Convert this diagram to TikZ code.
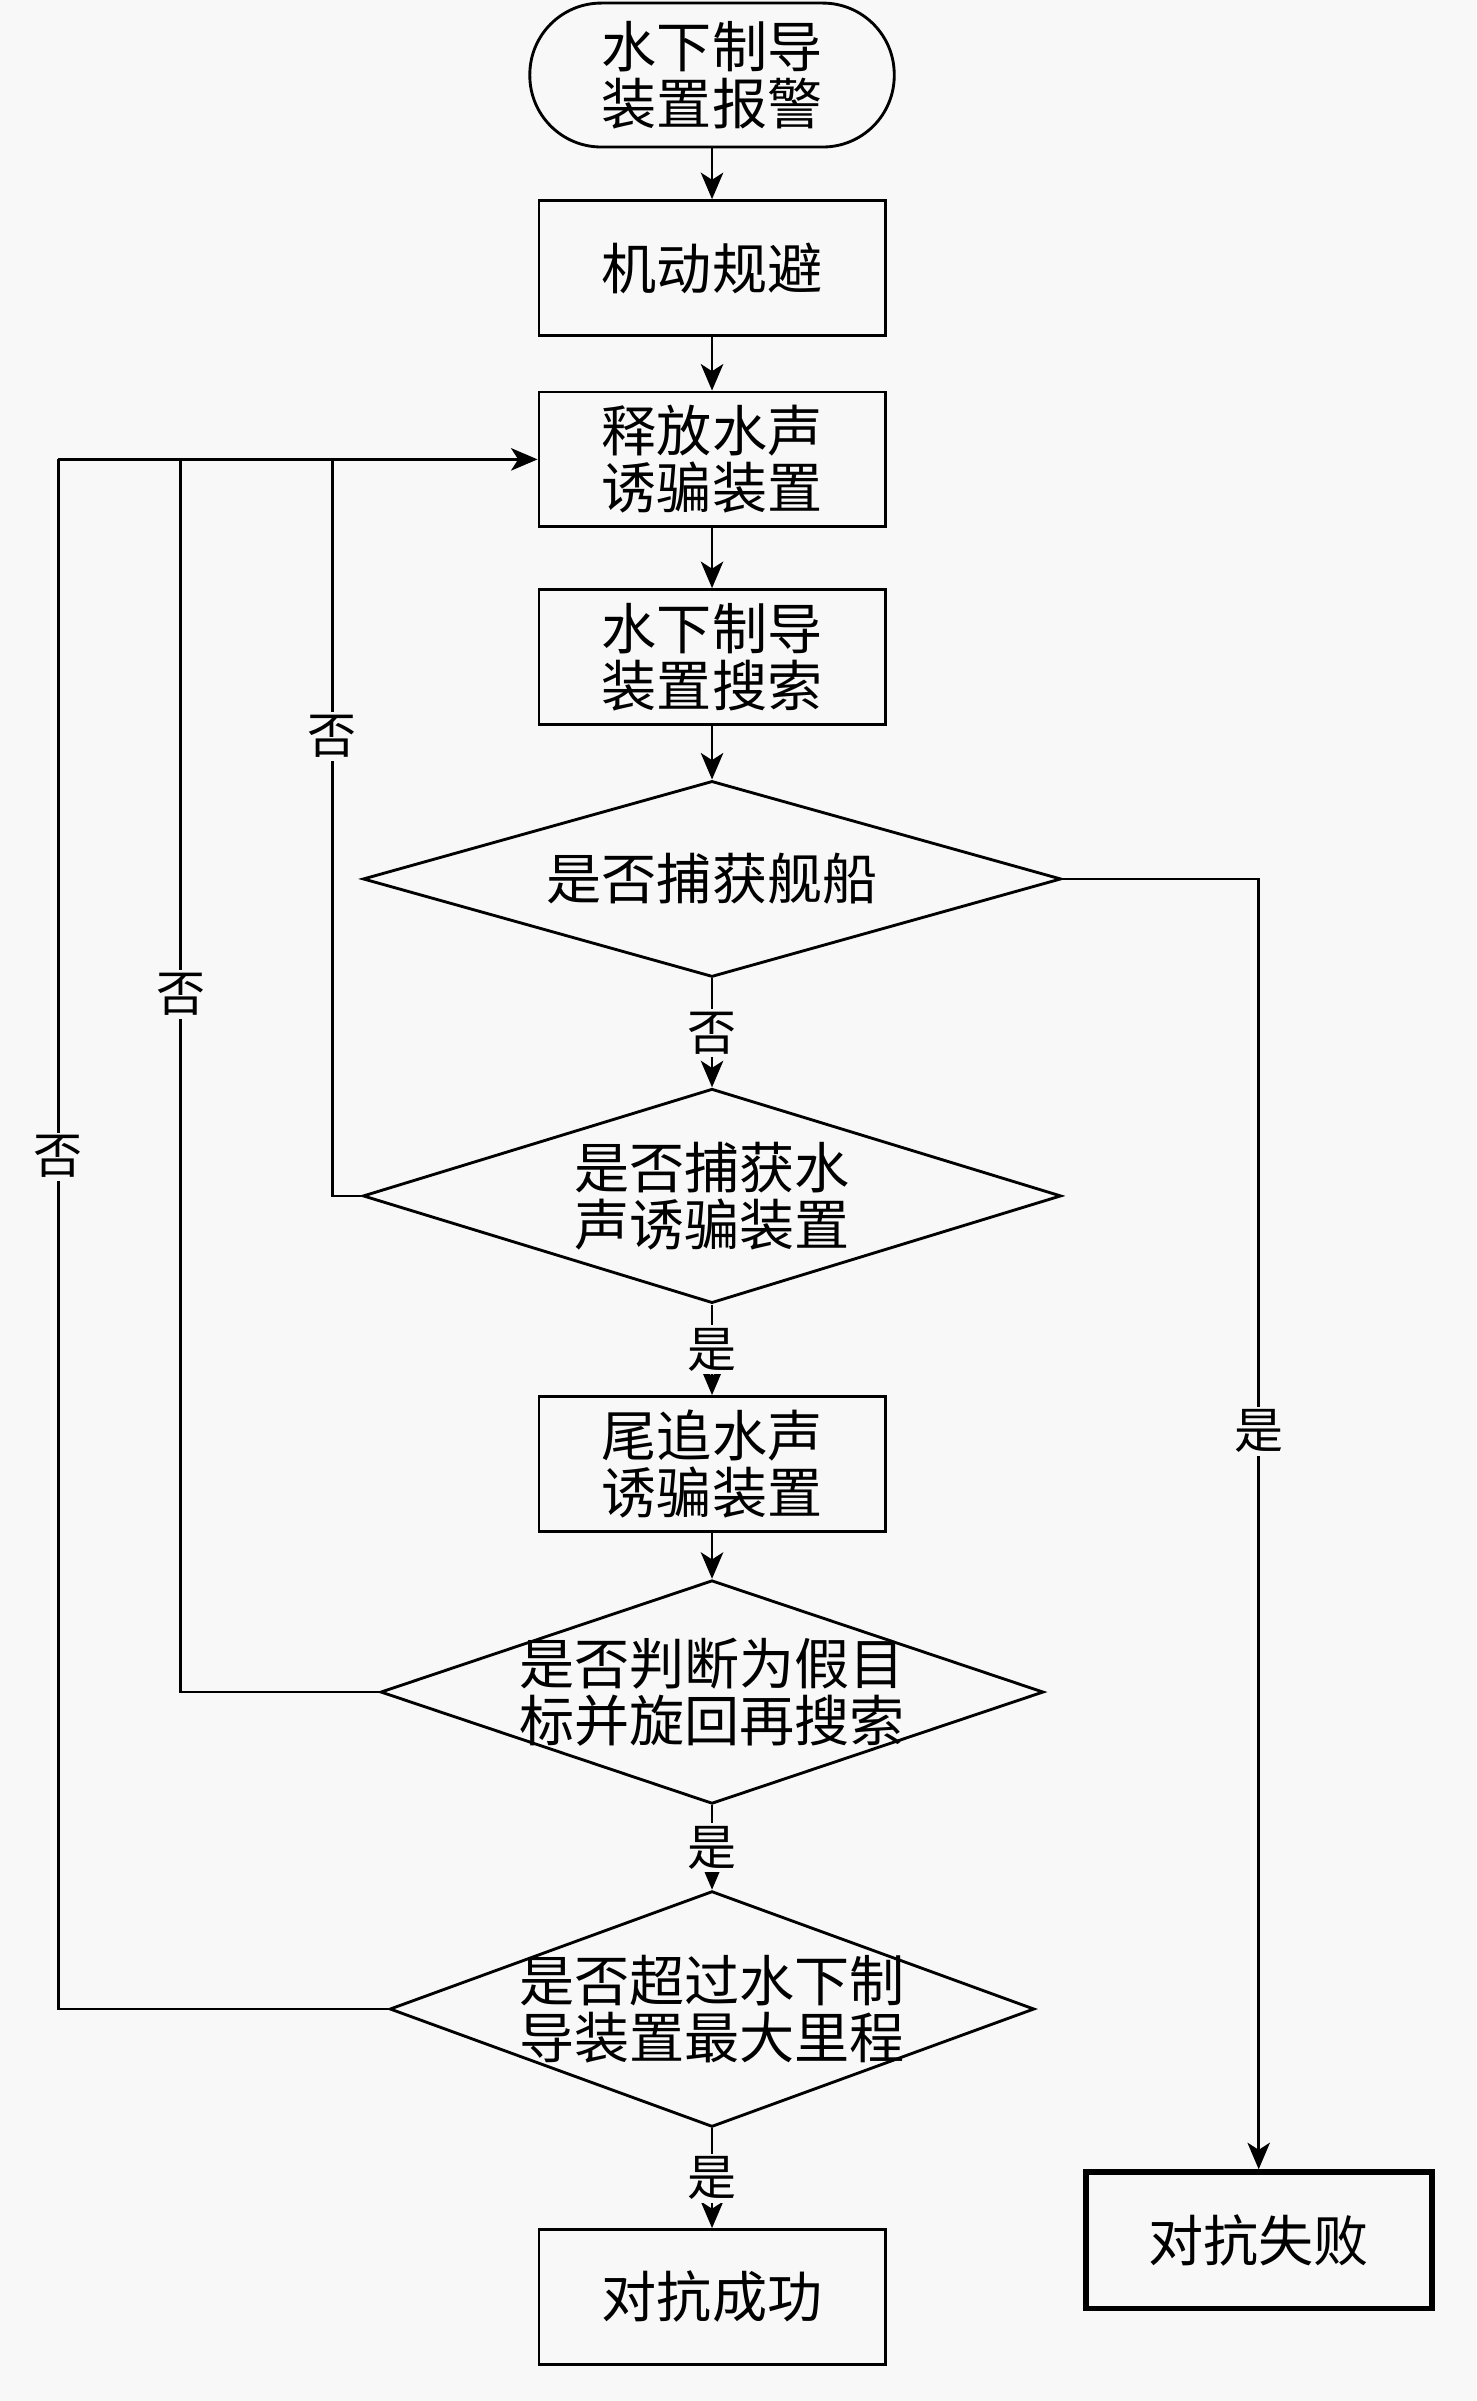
\documentclass[tikz,border=0pt]{standalone}
\usepackage{fontspec}
\newfontfamily\cjk{Noto Sans CJK SC}
\usetikzlibrary{shapes.geometric,arrows.meta}
\definecolor{bg}{RGB}{248,248,248}
\begin{document}
\begin{tikzpicture}[x=0.75pt,y=-0.75pt,
  ln/.style={line width=1.3pt},
  arr/.style={line width=1.3pt,-{Stealth[length=13pt,width=11pt,inset=3.5pt]}},
  txt/.style={font=\cjk\fontsize{27}{28}\selectfont},
  box/.style={draw,line width=1.4pt,minimum width=169.5pt,minimum height=66pt,inner sep=0pt,align=center,txt},
  term/.style={box,rounded corners=35pt,minimum width=178.5pt,minimum height=70.5pt},
  dia/.style={draw,line width=1.4pt,diamond,inner sep=0pt},
  lbl/.style={fill=bg,inner sep=1.5pt,font=\cjk\fontsize{24}{24}\selectfont}]
\fill[bg] (0,0) rectangle (964,1568);
\useasboundingbox (0,0) rectangle (964,1568);

\node[term] (t) at (465,49) {水下制导\\装置报警};
\node[box] (b1) at (465,175) {机动规避};
\node[box] (b2) at (465,300) {释放水声\\诱骗装置};
\node[box] (b3) at (465,429) {水下制导\\装置搜索};
\node[dia,minimum width=342pt,minimum height=96pt,
  label={[txt,align=center]center:是否捕获舰船}] (d1) at (465,574) {};
\node[dia,minimum width=342pt,minimum height=105pt,
  label={[txt,align=center]center:是否捕获水\\声诱骗装置}] (d2) at (465,781) {};
\node[box] (b4) at (465,956) {尾追水声\\诱骗装置};
\node[dia,minimum width=324.75pt,minimum height=109.5pt,
  label={[txt,align=center]center:是否判断为假目\\标并旋回再搜索}] (d3) at (465,1105) {};
\node[dia,minimum width=315.75pt,minimum height=115.5pt,
  label={[txt,align=center]center:是否超过水下制\\导装置最大里程}] (d4) at (465,1312) {};
\node[box] (ok) at (465,1500) {对抗成功};
\node[box,line width=2.8pt,minimum height=66.75pt] (fail) at (822,1463) {对抗失败};

\coordinate (c1) at (217,300);
\coordinate (c2) at (118,300);
\coordinate (c3) at (38,300);

\draw[arr] (t) -- (b1);
\draw[arr] (b1) -- (b2);
\draw[arr] (b2) -- (b3);
\draw[arr] (b3) -- (d1);
\draw[arr] (d1) -- node[lbl]{否} (d2);
\draw[arr] (d2) -- node[lbl]{是} (b4);
\draw[arr] (b4) -- (d3);
\draw[arr] (d3) -- node[lbl]{是} (d4);
\draw[arr] (d4) -- node[lbl]{是} (ok);
\draw[arr] (d1.east) -| node[lbl,pos=0.714]{是} (fail.north);

\draw[ln] (d2.west) -| node[lbl,pos=0.812]{否} (c1);
\draw[ln] (d3.west) -| node[lbl,pos=0.783]{否} (c2);
\draw[ln] (d4.west) -| node[lbl,pos=0.775]{否} (c3);
\draw[arr] (c3) -- (b2.west);
\end{tikzpicture}
\end{document}
